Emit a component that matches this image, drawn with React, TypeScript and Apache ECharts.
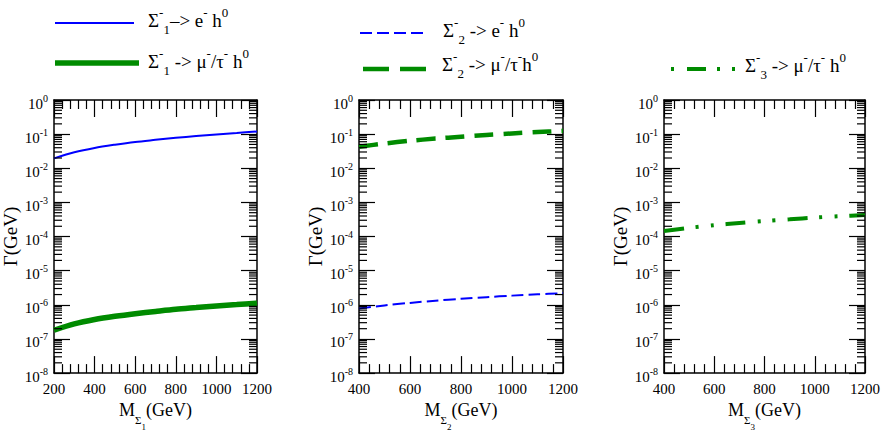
import React, { useEffect, useRef } from "react";
import * as echarts from "echarts";

const FONT = "Liberation Serif";

// Panel 1: Σ1 (200–1200 GeV)
const massesP1 = [200, 300, 400, 500, 600, 700, 800, 900, 1000, 1100, 1200];
const gammaE_P1 = [0.0195, 0.0295, 0.0395, 0.049, 0.059, 0.068, 0.078, 0.088, 0.098, 0.108, 0.12];
const gammaMuTau_P1 = [1.8e-7, 2.75e-7, 3.7e-7, 4.6e-7, 5.5e-7, 6.4e-7, 7.4e-7, 8.3e-7, 9.3e-7, 1.02e-6, 1.12e-6];

// Panel 2: Σ2 (400–1200 GeV)
const massesP2 = [400, 500, 600, 700, 800, 900, 1000, 1100, 1200];
const gammaE_P2 = [7.8e-7, 9.6e-7, 1.14e-6, 1.32e-6, 1.5e-6, 1.68e-6, 1.86e-6, 2.03e-6, 2.2e-6];
const gammaMuTau_P2 = [0.043, 0.053, 0.064, 0.074, 0.084, 0.095, 0.105, 0.115, 0.125];

// Panel 3: Σ3 (400–1200 GeV)
const massesP3 = [400, 500, 600, 700, 800, 900, 1000, 1100, 1200];
const gammaMuTau_P3 = [1.45e-4, 1.8e-4, 2.15e-4, 2.5e-4, 2.85e-4, 3.2e-4, 3.6e-4, 3.95e-4, 4.3e-4];

const xMins = [200, 400, 400];
const xMax = 1200;
const yMin = 1e-8;
const yMax = 1;
const subIdx = ["1", "2", "3"];

const BLUE = "#0000ff";
const GREEN = "#008b00";

const zip = (xs: number[], ys: number[]) => xs.map((x, i) => [x, ys[i]]);

const minorLogVals: number[] = [];
for (let d = -8; d < 0; d++) {
  for (let k = 2; k <= 9; k++) minorLogVals.push(k * Math.pow(10, d));
}

const gridBoxes = [
  { left: 53, top: 100, width: 204, height: 277 },
  { left: 359, top: 100, width: 204, height: 277 },
  { left: 664, top: 100, width: 204, height: 277 },
];

const tickStyle = { color: "#000", width: 1.2 };
const lineAxis = { lineStyle: { color: "#000", width: 1.5 } };

const yLabelRich = {
  b: { fontSize: 15, fontFamily: FONT, color: "#000", padding: [7, 0, 0, 0] },
  s: { fontSize: 10, fontFamily: FONT, color: "#000", padding: [0, 0, 4, 0] },
};

const legendRich = {
  b: { fontSize: 19, fontFamily: FONT, color: "#000" },
  sp: { fontSize: 13, fontFamily: FONT, color: "#000", padding: [0, 0, 15, 0] },
  sb: { fontSize: 13, fontFamily: FONT, color: "#000", padding: [19, 0, 0, 0] },
};

export default function App() {
  const ref = useRef<HTMLDivElement>(null);
  useEffect(() => {
    if (!ref.current) return;
    const chart = echarts.init(ref.current, undefined, { renderer: "svg" });

    const xAxes: any[] = [];
    const yAxes: any[] = [];
    gridBoxes.forEach((_, i) => {
      const baseX = {
        gridIndex: i,
        type: "value",
        min: xMins[i],
        max: xMax,
        interval: 200,
        axisLine: lineAxis,
        axisTick: { inside: true, length: 17, lineStyle: tickStyle },
        minorTick: { show: true, splitNumber: 5, length: 9, lineStyle: tickStyle },
        splitLine: { show: false },
      };
      xAxes.push({
        ...baseX,
        position: "bottom",
        axisLabel: {
          fontSize: 15,
          color: "#000",
          fontFamily: FONT,
          margin: 8,
          formatter: (v: number) => String(v),
        },
        name: `{b|M}{s1|Σ}{s2|${subIdx[i]}}{b|(GeV)}`,
        nameLocation: "middle",
        nameGap: 14,
        nameTextStyle: {
          rich: {
            b: { fontSize: 18, fontFamily: FONT, color: "#000" },
            s1: { fontSize: 11, fontFamily: FONT, color: "#000", padding: [19, 0, 0, 0] },
            s2: { fontSize: 9, fontFamily: FONT, color: "#000", padding: [33, 0, 0, 0] },
          },
        },
      });
      xAxes.push({ ...baseX, position: "top", axisLabel: { show: false } });

      const baseY = {
        gridIndex: i,
        type: "log",
        logBase: 10,
        min: yMin,
        max: yMax,
        splitNumber: 8,
        axisLine: lineAxis,
        axisTick: { inside: true, length: 16, lineStyle: tickStyle },
        splitLine: { show: false },
      };
      yAxes.push({
        ...baseY,
        position: "left",
        axisLabel: {
          margin: 6,
          formatter: (v: number) => `{b|10}{s|${Math.round(Math.log10(v))}}`,
          rich: yLabelRich,
        },
        name: "Γ(GeV)",
        nameLocation: "middle",
        nameRotate: 90,
        nameGap: 34,
        nameTextStyle: { fontSize: 19, fontFamily: FONT, color: "#000" },
      });
      yAxes.push({ ...baseY, position: "right", axisLabel: { show: false } });
    });

    const mkLine = (i: number, data: number[][], color: string, width: number, type: any) => ({
      type: "line",
      xAxisIndex: 2 * i,
      yAxisIndex: 2 * i,
      data,
      showSymbol: false,
      smooth: 0.3,
      lineStyle: { color, width, type, cap: "butt" },
      z: 2,
    });

    const minorTickSeries = (i: number) => ({
      type: "custom",
      xAxisIndex: 2 * i,
      yAxisIndex: 2 * i,
      silent: true,
      z: 5,
      data: [[xMins[i], 1e-4]],
      renderItem: (_p: any, api: any) => {
        const children: any[] = [];
        minorLogVals.forEach((v) => {
          const pl = api.coord([xMins[i], v]);
          const pr = api.coord([xMax, v]);
          children.push({
            type: "line",
            shape: { x1: pl[0], y1: pl[1], x2: pl[0] + 8, y2: pl[1] },
            style: { stroke: "#000", lineWidth: 1.2 },
          });
          children.push({
            type: "line",
            shape: { x1: pr[0] - 8, y1: pr[1], x2: pr[0], y2: pr[1] },
            style: { stroke: "#000", lineWidth: 1.2 },
          });
        });
        return { type: "group", children };
      },
    });

    const legendText = (x: number, y: number, text: string) => ({
      type: "text",
      x,
      y,
      style: { text, rich: legendRich, fontFamily: FONT, textVerticalAlign: "middle", verticalAlign: "middle" },
    });

    const option: any = {
      animation: false,
      textStyle: { fontFamily: FONT, color: "#000" },
      grid: gridBoxes,
      xAxis: xAxes,
      yAxis: yAxes,
      series: [
        mkLine(0, zip(massesP1, gammaE_P1), BLUE, 2, "solid"),
        mkLine(0, zip(massesP1, gammaMuTau_P1), GREEN, 5.5, "solid"),
        mkLine(1, zip(massesP2, gammaE_P2), BLUE, 2, [12, 5]),
        mkLine(1, zip(massesP2, gammaMuTau_P2), GREEN, 4.5, [19, 10]),
        mkLine(2, zip(massesP3, gammaMuTau_P3), GREEN, 4, [20, 12, 3, 12, 3, 12]),
        minorTickSeries(0),
        minorTickSeries(1),
        minorTickSeries(2),
      ],
      graphic: [
        { type: "line", shape: { x1: 55, y1: 23, x2: 134, y2: 23 }, style: { stroke: BLUE, lineWidth: 2 } },
        { type: "line", shape: { x1: 55, y1: 63, x2: 139, y2: 63 }, style: { stroke: GREEN, lineWidth: 5.5 } },
        { type: "line", shape: { x1: 360, y1: 33, x2: 428, y2: 33 }, style: { stroke: BLUE, lineWidth: 2, lineDash: [12, 5] } },
        { type: "line", shape: { x1: 363, y1: 69, x2: 426, y2: 69 }, style: { stroke: GREEN, lineWidth: 4.5, lineDash: [26, 11] } },
        {
          type: "line",
          shape: { x1: 671, y1: 69, x2: 735, y2: 69 },
          style: { stroke: GREEN, lineWidth: 4, lineDash: [3, 13, 19, 11, 3, 12, 3, 100] },
        },
        legendText(148, 20, "{b|Σ}{sp|-}{sb|1}{b|–> e}{sp|-}{b| h}{sp|0}"),
        legendText(148, 61, "{b|Σ}{sp|-}{sb|1}{b| -> μ}{sp|-}{b|/τ}{sp|-}{b| h}{sp|0}"),
        legendText(443, 30, "{b|Σ}{sp|-}{sb|2}{b| -> e}{sp|-}{b| h}{sp|0}"),
        legendText(442, 64, "{b|Σ}{sp|-}{sb|2}{b| -> μ}{sp|-}{b|/τ}{sp|-}{b|h}{sp|0}"),
        legendText(745, 65, "{b|Σ}{sp|-}{sb|3}{b| -> μ}{sp|-}{b|/τ}{sp|-}{b| h}{sp|0}"),
      ],
    };
    chart.setOption(option);
    return () => chart.dispose();
  }, []);
  return (
    <div
      ref={ref}
      style={{ position: "absolute", left: 0, top: 0, width: 883, height: 436, background: "#fff" }}
    />
  );
}
